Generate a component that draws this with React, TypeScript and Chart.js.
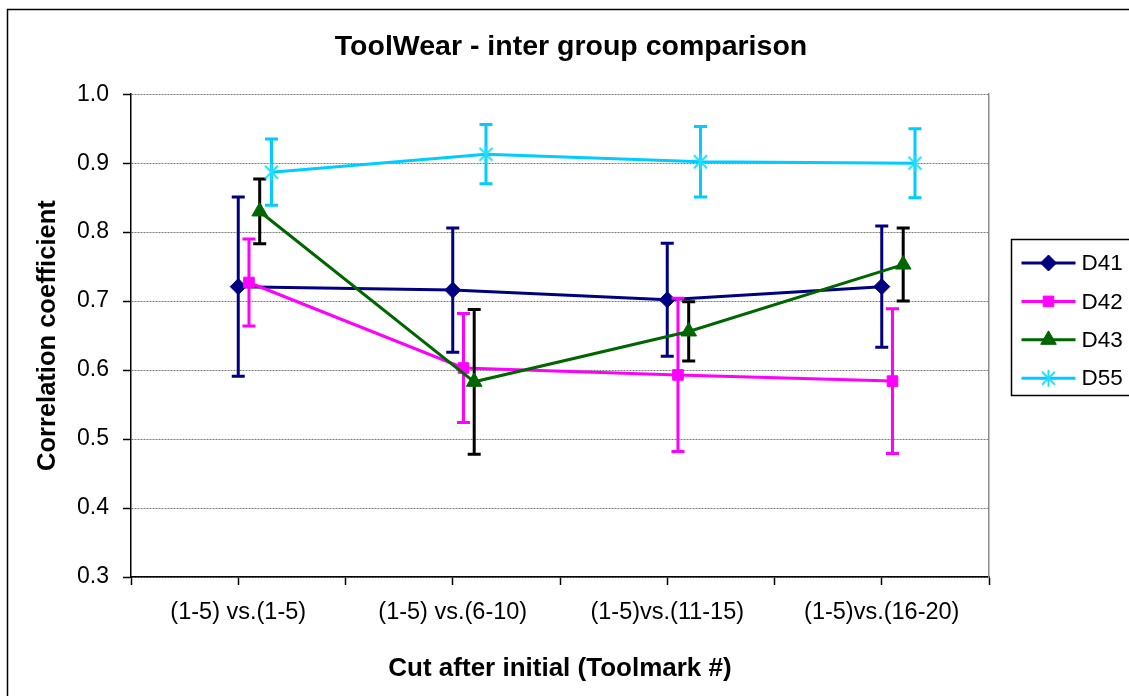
import React, { useEffect, useRef } from 'react';
import { Chart, registerables } from 'chart.js';
import { drawPoint } from 'chart.js/helpers';

Chart.register(...registerables);

// ---- data ----
const categories = ['(1-5) vs.(1-5)', '(1-5) vs.(6-10)', '(1-5)vs.(11-15)', '(1-5)vs.(16-20)'];
const seriesNames = ['D41', 'D42', 'D43', 'D55'];
const d41 = [0.721, 0.716, 0.702, 0.721];
const d41Err = [0.13, 0.09, 0.082, 0.088];
const d42 = [0.727, 0.603, 0.593, 0.584];
const d42Err = [0.063, 0.079, 0.111, 0.105];
const d43 = [0.83, 0.583, 0.656, 0.753];
const d43Err = [0.047, 0.105, 0.043, 0.053];
const d55 = [0.887, 0.913, 0.902, 0.9];
const d55Err = [0.048, 0.043, 0.051, 0.05];
// horizontal shift of each series inside a category (in category units)
const seriesOffsets = [0, 0.05, 0.1, 0.155];
const yMin = 0.3;
const yMax = 1.0;
const yStep = 0.1;

const FONT = "'Liberation Sans', Arial, Helvetica, sans-serif";

function toPoints(values: number[], offset: number) {
  return values.map((v, i) => ({ x: i + 1 + offset, y: v }));
}

function makeStar(color: string) {
  const c = document.createElement('canvas');
  c.width = 19;
  c.height = 19;
  const g = c.getContext('2d')!;
  g.strokeStyle = color;
  g.lineWidth = 2;
  g.lineCap = 'butt';
  g.beginPath();
  g.moveTo(3, 3); g.lineTo(16, 16);
  g.moveTo(16, 3); g.lineTo(3, 16);
  g.moveTo(9.5, 1); g.lineTo(9.5, 18);
  g.stroke();
  return c;
}

const frameAndBackground = {
  id: 'frameAndBackground',
  beforeDraw(chart: any) {
    const { ctx, width, height } = chart;
    ctx.save();
    ctx.fillStyle = '#ffffff';
    ctx.fillRect(0, 0, width, height);
    ctx.strokeStyle = '#000000';
    ctx.lineWidth = 1.5;
    ctx.strokeRect(7.5, 9.5, width + 50, height + 50);
    ctx.restore();
  },
};

const errorBars = {
  id: 'errorBars',
  beforeDatasetDraw(chart: any, args: any) {
    const ds = chart.data.datasets[args.index];
    if (!ds.errors) return;
    const ctx = chart.ctx;
    const yScale = chart.scales.y;
    ctx.save();
    ctx.strokeStyle = ds.errorColor;
    ctx.lineWidth = 3;
    ctx.lineCap = 'butt';
    args.meta.data.forEach((pt: any, i: number) => {
      const v = ds.data[i].y;
      const e = ds.errors[i];
      const x = pt.x;
      const yt = yScale.getPixelForValue(v + e);
      const yb = yScale.getPixelForValue(v - e);
      ctx.beginPath();
      ctx.moveTo(x, yt);
      ctx.lineTo(x, yb);
      ctx.moveTo(x - 6.5, yt);
      ctx.lineTo(x + 6.5, yt);
      ctx.moveTo(x - 6.5, yb);
      ctx.lineTo(x + 6.5, yb);
      ctx.stroke();
    });
    ctx.restore();
  },
};

const boxLegend = {
  id: 'boxLegend',
  afterDraw(chart: any) {
    const ctx = chart.ctx;
    const area = chart.chartArea;
    const left = area.right + 22.5;
    const top = 239.5;
    const bottom = 395.5;
    ctx.save();
    ctx.fillStyle = '#ffffff';
    ctx.fillRect(left, top, 300, bottom - top);
    ctx.strokeStyle = '#000000';
    ctx.lineWidth = 1.5;
    ctx.strokeRect(left, top, 300, bottom - top);
    chart.data.datasets.forEach((ds: any, i: number) => {
      const y = top + 23.5 + i * 38.4;
      const x0 = left + 10;
      const x1 = left + 64;
      ctx.strokeStyle = ds.borderColor;
      ctx.lineWidth = 3;
      ctx.beginPath();
      ctx.moveTo(x0, y);
      ctx.lineTo(x1, y);
      ctx.stroke();
      ctx.fillStyle = ds.pointBackgroundColor;
      ctx.strokeStyle = ds.pointBorderColor;
      ctx.lineWidth = 1;
      drawPoint(ctx, { pointStyle: ds.pointStyle, radius: ds.pointRadius, rotation: 0, borderWidth: 1 } as any, (x0 + x1) / 2, y);
      ctx.fillStyle = '#000000';
      ctx.font = `22.5px ${FONT}`;
      ctx.textAlign = 'left';
      ctx.textBaseline = 'middle';
      ctx.fillText(ds.label, x1 + 6, y + 1);
    });
    ctx.restore();
  },
};

export default function App() {
  const ref = useRef<HTMLCanvasElement>(null);

  useEffect(() => {
    if (!ref.current) return;
    const star = makeStar('#22DDFF');
    const colors = ['#000080', '#FF00FF', '#006600', '#00CCFF'];
    const errColors = ['#000080', '#FF00FF', '#000000', '#00CCFF'];
    const styles: any[] = ['rectRot', 'rect', 'triangle', star];
    const radii = [8, 7.5, 9, 8];
    const values = [d41, d42, d43, d55];
    const errors = [d41Err, d42Err, d43Err, d55Err];

    const datasets: any[] = seriesNames.map((name, k) => ({
      label: name,
      data: toPoints(values[k], seriesOffsets[k]),
      errors: errors[k],
      errorColor: errColors[k],
      borderColor: colors[k],
      backgroundColor: colors[k],
      pointBackgroundColor: colors[k],
      pointBorderColor: colors[k],
      pointStyle: styles[k],
      pointRadius: radii[k],
      pointBorderWidth: 1,
      borderWidth: 3,
      tension: 0,
      fill: false,
      order: seriesNames.length - k,
    }));

    Chart.defaults.font.family = FONT;
    Chart.defaults.color = '#000000';

    const chart = new Chart(ref.current, {
      type: 'line',
      data: { datasets },
      plugins: [frameAndBackground, errorBars, boxLegend],
      options: {
        responsive: false,
        animation: false,
        events: [],
        layout: { padding: { left: 13, right: 0, top: 0, bottom: 0 } },
        plugins: {
          legend: { display: false },
          tooltip: { enabled: false },
          title: {
            display: true,
            text: 'ToolWear - inter group comparison',
            color: '#000000',
            font: { size: 28.5, weight: 'bold', family: FONT },
            padding: { top: 30, bottom: 30 },
          },
        },
        scales: {
          x: {
            type: 'linear',
            min: 0.5,
            max: categories.length + 0.5,
            afterFit: (s: any) => { s.height = 119; },
            ticks: {
              stepSize: 0.5,
              autoSkip: false,
              maxRotation: 0,
              padding: 13,
              color: '#000000',
              font: { size: 23.5, family: FONT },
              callback: (v: any) => {
                const n = Number(v);
                const r = Math.round(n);
                return Math.abs(n - r) < 1e-6 && r >= 1 && r <= categories.length ? categories[r - 1] : '';
              },
            },
            grid: {
              display: true,
              drawOnChartArea: false,
              drawTicks: true,
              tickLength: 8,
              tickColor: '#000000',
              tickWidth: 1.5,
            },
            border: { display: true, color: '#000000', width: 1.5 },
            title: {
              display: true,
              text: 'Cut after initial (Toolmark #)',
              color: '#000000',
              font: { size: 26, weight: 'bold', family: FONT },
              padding: { top: 0, bottom: 12 },
            },
          },
          y: {
            type: 'linear',
            position: 'left',
            min: yMin,
            max: yMax,
            afterFit: (s: any) => { s.width = 118; },
            ticks: {
              stepSize: yStep,
              padding: 14,
              color: '#000000',
              font: { size: 23, family: FONT },
              callback: (v: any) => Number(v).toFixed(1),
            },
            grid: {
              display: true,
              drawOnChartArea: true,
              color: '#7a7a7a',
              lineWidth: 1,
              drawTicks: true,
              tickLength: 8,
              tickColor: '#000000',
              tickWidth: 1.5,
            },
            border: { display: true, color: '#000000', width: 1.5, dash: [2, 1] },
            title: {
              display: true,
              text: 'Correlation coefficient',
              color: '#000000',
              font: { size: 25.5, weight: 'bold', family: FONT },
              padding: { top: 20, bottom: 0 },
            },
          },
          y2: {
            type: 'linear',
            position: 'right',
            display: true,
            afterFit: (s: any) => { s.width = 140; },
            ticks: { display: false },
            grid: { display: false, drawOnChartArea: false, drawTicks: false },
            border: { display: true, color: '#8c8c8c', width: 1.5 },
          },
        },
      } as any,
    });
    return () => chart.destroy();
  }, []);

  return (
    <div style={{ position: 'absolute', left: 0, top: 0, width: 1129, height: 696 }}>
      <canvas ref={ref} width={1129} height={696} style={{ display: 'block', width: 1129, height: 696 }} />
    </div>
  );
}
